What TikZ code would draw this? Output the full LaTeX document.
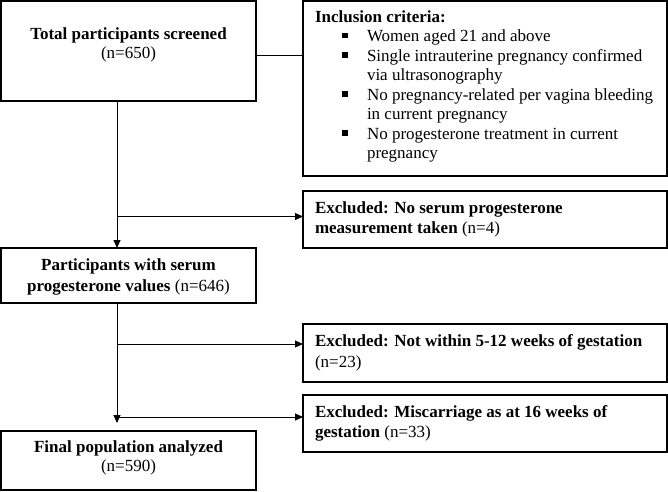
\documentclass[tikz,border=0pt]{standalone}
\usepackage{fontspec}
\setmainfont{Liberation Serif}
\usetikzlibrary{arrows.meta}
\tikzset{
  box/.style={draw, line width=1.5pt, inner sep=0pt, outer sep=0pt, anchor=north west},
  conn/.style={draw, line width=0.9pt},
  arr/.style={conn, -{Triangle[length=8pt,width=7pt]}},
  txt/.style={inner sep=0pt, outer sep=0pt, font=\fontsize{17}{19.7}\selectfont},
  ctxt/.style={txt, anchor=base},
  ltxt/.style={txt, anchor=base west},
  bul/.style={fill=black}
}
\begin{document}
\begin{tikzpicture}[x=1pt,y=-1pt]
\useasboundingbox (0,0) rectangle (668,491);
% boxes
\node[box, minimum width=255pt, minimum height=100pt] (b1) at (1,1) {};
\node[box, minimum width=364pt, minimum height=175pt] (inc) at (303,1) {};
\node[box, minimum width=364pt, minimum height=57pt] (e1) at (303,191) {};
\node[box, minimum width=255pt, minimum height=55pt] (b2) at (1,248) {};
\node[box, minimum width=364pt, minimum height=58pt] (e2) at (303,324) {};
\node[box, minimum width=364pt, minimum height=57pt] (e3) at (303,395) {};
\node[box, minimum width=255pt, minimum height=59pt] (b3) at (1,431) {};
% texts
\node[ctxt] (t1a) at (128.5,39) {\textbf{Total participants screened}};
\node[ctxt] (t1b) at (128.5,58) {(n=650)};
\node[ltxt] (ia) at (315,22) {\textbf{Inclusion criteria:}};
\node[ltxt] (i1) at (367,41.5) {Women aged 21 and above};
\node[ltxt] (i2) at (367,61) {Single intrauterine pregnancy confirmed};
\node[ltxt] (i3) at (367,80.5) {via ultrasonography};
\node[ltxt] (i4) at (367,100) {No pregnancy-related per vagina bleeding};
\node[ltxt] (i5) at (367,119.5) {in current pregnancy};
\node[ltxt] (i6) at (367,139) {No progesterone treatment in current};
\node[ltxt] (i7) at (367,158.5) {pregnancy};
\foreach \b in {41.5,61,100,139} \fill[bul] (342,\b-3.5) rectangle (347.5,\b-9);
\node[ltxt] (x1a) at (315,213) {\textbf{Excluded: No serum progesterone}};
\node[ltxt] (x1b) at (315,233) {\textbf{measurement taken} (n=4)};
\node[ctxt] (t2a) at (128.5,270) {\textbf{Participants with serum}};
\node[ctxt] (t2b) at (128.5,291) {\textbf{progesterone values} (n=646)};
\node[ltxt] (x2a) at (315,346) {\textbf{Excluded: Not within 5-12 weeks of gestation}};
\node[ltxt] (x2b) at (315,367) {(n=23)};
\node[ltxt] (x3a) at (315,417) {\textbf{Excluded: Miscarriage as at 16 weeks of}};
\node[ltxt] (x3b) at (315,437) {\textbf{gestation} (n=33)};
\node[ctxt] (t3a) at (128.5,452) {\textbf{Final population analyzed}};
\node[ctxt] (t3b) at (128.5,471) {(n=590)};
% connectors
\coordinate (sp) at (117,0);
\coordinate (end3) at (117,423);
\draw[conn] (b1.east |- 0,55) -- (inc.west |- 0,55);
\draw[arr] (sp |- b1.south) -- (sp |- b2.north);
\draw[arr] (sp |- 0,216.5) -- (e1.west |- 0,216.5);
\draw[arr] (sp |- b2.south) -- (end3);
\draw[arr] (sp |- 0,344) -- (e2.west |- 0,344);
\draw[arr] (sp |- 0,417) -- (e3.west |- 0,417);
\end{tikzpicture}
\end{document}
